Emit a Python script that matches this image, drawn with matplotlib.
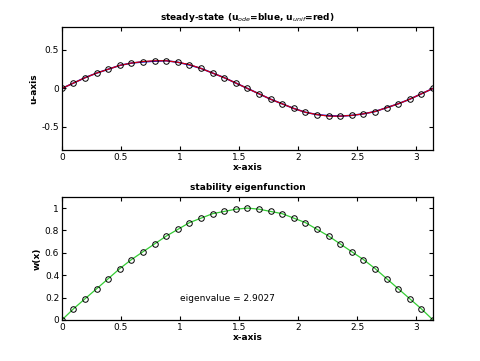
import matplotlib
matplotlib.use("Agg")
import matplotlib.pyplot as plt

x = [0.000, 0.098, 0.196, 0.295, 0.393, 0.491, 0.589, 0.687, 0.785, 0.884,
     0.982, 1.080, 1.178, 1.276, 1.374, 1.473, 1.571, 1.669, 1.767, 1.865,
     1.963, 2.062, 2.160, 2.258, 2.356, 2.454, 2.553, 2.651, 2.749, 2.847,
     2.945, 3.043, 3.142]

u_unif = [0.0, 0.07, 0.14, 0.20, 0.25, 0.30, 0.33, 0.35, 0.36, 0.36,
          0.34, 0.31, 0.26, 0.20, 0.14, 0.07, 0.0, -0.07, -0.14, -0.20,
          -0.26, -0.31, -0.34, -0.36, -0.36, -0.35, -0.33, -0.30, -0.25,
          -0.20, -0.14, -0.07, 0.0]
u_ode = [0.0, 0.07, 0.14, 0.20, 0.25, 0.30, 0.33, 0.345, 0.355, 0.36,
         0.34, 0.305, 0.26, 0.20, 0.14, 0.07, 0.0, -0.07, -0.14, -0.20,
         -0.26, -0.31, -0.34, -0.355, -0.36, -0.35, -0.33, -0.30, -0.25,
         -0.20, -0.14, -0.07, 0.0]

w = [0.0, 0.10, 0.19, 0.28, 0.37, 0.46, 0.54, 0.61, 0.68, 0.75, 0.81,
     0.87, 0.91, 0.95, 0.97, 0.99, 1.0, 0.99, 0.97, 0.95, 0.91, 0.87,
     0.81, 0.75, 0.68, 0.61, 0.54, 0.46, 0.37, 0.28, 0.19, 0.10, 0.0]

xticks = [0, 0.5, 1, 1.5, 2, 2.5, 3]
xticklabels = ["0", "0.5", "1", "1.5", "2", "2.5", "3"]
yticks_top = [-0.5, 0, 0.5]
yticklabels_top = ["-0.5", "0", "0.5"]
yticks_bot = [0, 0.2, 0.4, 0.6, 0.8, 1]
yticklabels_bot = ["0", "0.2", "0.4", "0.6", "0.8", "1"]
eig_text = "eigenvalue = 2.9027"

fs = 6.5
fig = plt.figure(figsize=(4.8, 3.61), dpi=100)
ax1 = fig.add_axes([0.129, 0.5845, 0.773, 0.341])
ax2 = fig.add_axes([0.129, 0.1136, 0.773, 0.341])

def style(ax):
    ax.tick_params(direction="in", length=3, width=0.8, top=True, right=True,
                   labelsize=fs, pad=2)
    for s in ax.spines.values():
        s.set_linewidth(0.9)

ax1.plot(x, u_ode, color="#0000cc", lw=1.1)
ax1.plot(x, u_unif, color="#dd0000", lw=0.8, marker="o", ms=4,
         mfc="none", mec="black", mew=0.7)
ax1.set_xlim(0, 3.1416)
ax1.set_ylim(-0.8, 0.8)
ax1.set_xticks(xticks, xticklabels)
ax1.set_yticks(yticks_top, yticklabels_top)
ax1.set_title(r"steady-state (u$_{ode}$=blue, u$_{unif}$=red)", fontsize=fs,
              fontweight="bold", pad=5)
ax1.set_xlabel("x-axis", fontsize=fs, fontweight="bold", labelpad=1)
ax1.set_ylabel("u-axis", fontsize=fs, fontweight="bold", labelpad=2)
style(ax1)

ax2.plot(x, w, color="#33cc33", lw=0.9, marker="o", ms=4,
         mfc="none", mec="black", mew=0.7)
ax2.set_xlim(0, 3.1416)
ax2.set_ylim(0, 1.1)
ax2.set_xticks(xticks, xticklabels)
ax2.set_yticks(yticks_bot, yticklabels_bot)
ax2.set_title("stability eigenfunction", fontsize=fs, fontweight="bold", pad=5)
ax2.set_xlabel("x-axis", fontsize=fs, fontweight="bold", labelpad=1)
ax2.set_ylabel("w(x)", fontsize=fs, fontweight="bold", labelpad=2)
ax2.text(1.0, 0.19, eig_text, fontsize=fs, va="center", ha="left")
style(ax2)

fig.savefig("out.png", dpi=100)
